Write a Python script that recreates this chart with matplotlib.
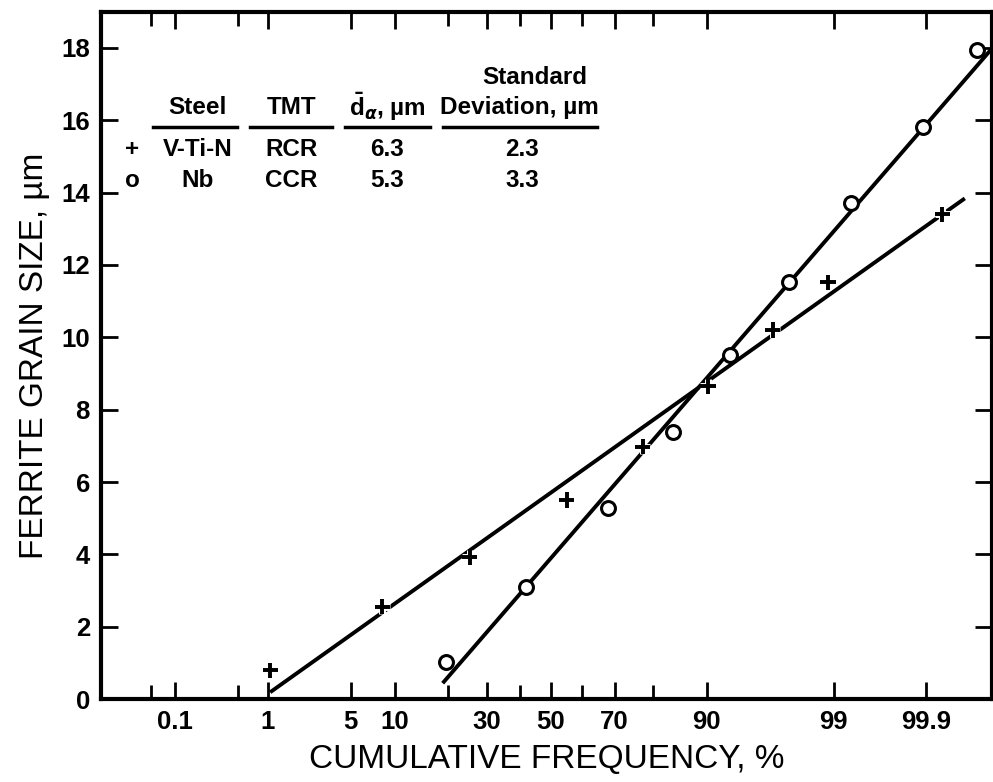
"""
Ferrite grain size distribution on a normal probability axis.
"""
from statistics import NormalDist
import numpy as np
import matplotlib
matplotlib.use("Agg")
import matplotlib.pyplot as plt
import matplotlib.patheffects as pe

plt.rcParams['font.family'] = ['Liberation Sans', 'DejaVu Sans']
plt.rcParams['mathtext.fontset'] = 'custom'
plt.rcParams['mathtext.rm'] = 'Liberation Sans:bold'
plt.rcParams['mathtext.bf'] = 'Liberation Sans:bold'
plt.rcParams['mathtext.it'] = 'DejaVu Sans:italic:bold'

# measured points (cumulative frequency %, grain size um)
vtin_pct = [1.05, 8.3, 25.2, 55.2, 77.5, 90.2, 96.6, 98.87, 99.936]
vtin_size = [0.8, 2.55, 3.92, 5.5, 6.98, 8.65, 10.2, 11.52, 13.4]
nb_pct = [19.4, 41.8, 68.0, 84.2, 92.97, 97.5, 99.32, 99.89, 99.977]
nb_size = [1.02, 3.09, 5.28, 7.38, 9.5, 11.52, 13.7, 15.8, 17.93]

# fitted lines (end points)
vtin_fit_pct = [1.05, 99.967]
vtin_fit_size = [0.19, 13.84]
nb_fit_pct = [18.7, 99.986]
nb_fit_size = [0.44, 18.0]

major_ticks = [0.1, 1, 5, 10, 30, 50, 70, 90, 99, 99.9]
major_labels = ['0.1', '1', '5', '10', '30', '50', '70', '90', '99', '99.9']
minor_ticks = [0.05, 0.5, 20, 40, 60, 80]

# table
table_cols = ['Steel', 'TMT', r'$\bar{\mathrm{d}}_{\alpha}$, µm', 'Deviation, µm']
table_rows = [['+', 'V-Ti-N', 'RCR', '6.3', '2.3'],
              ['o', 'Nb', 'CCR', '5.3', '3.3']]

nd = NormalDist()


def prob_fwd(p):
    p = np.clip(np.asarray(p, dtype=float) / 100.0, 1e-12, 1 - 1e-12)
    return np.vectorize(nd.inv_cdf, otypes=[float])(p)


def prob_inv(z):
    return np.vectorize(nd.cdf, otypes=[float])(np.asarray(z, dtype=float)) * 100.0


fig = plt.figure(figsize=(9.93, 7.82), dpi=100)
ax = fig.add_axes([0.1017, 0.106, 0.8973, 0.879])
ax.set_xscale('function', functions=(prob_fwd, prob_inv))

ax.plot(vtin_fit_pct, vtin_fit_size, color='black', lw=2.8, solid_capstyle='butt', zorder=2)
ax.plot(nb_fit_pct, nb_fit_size, color='black', lw=2.8, solid_capstyle='butt', zorder=2)

ax.plot(vtin_pct, vtin_size, linestyle='none', marker='+', ms=11, mew=2.6, color='black', zorder=3,
        path_effects=[pe.withStroke(linewidth=5, foreground='white'), pe.Normal()])
ax.plot(nb_pct, nb_size, linestyle='none', marker='o', ms=10, mew=2.2, mfc='white', mec='black', zorder=3)

ax.set_xlim(0.0108, 99.9858)
ax.set_ylim(0, 19)

ax.set_xticks(major_ticks)
ax.set_xticklabels(major_labels)
ax.set_xticks(minor_ticks, minor=True)
ax.xaxis.set_minor_formatter(plt.NullFormatter())
ax.set_yticks(np.arange(0, 19, 2))
ax.set_yticks([], minor=True)

ax.tick_params(which='both', direction='in', top=True, right=True, width=2, labelsize=18.5, pad=8)
ax.tick_params(which='major', length=12)
ax.tick_params(which='minor', length=10)
for lab in ax.get_xticklabels() + ax.get_yticklabels():
    lab.set_fontweight('bold')
for sp in ax.spines.values():
    sp.set_linewidth(3)

ax.set_xlabel('CUMULATIVE FREQUENCY, %', fontsize=24, labelpad=7)
ax.set_ylabel('FERRITE GRAIN SIZE, µm', fontsize=24, labelpad=8)

# table of the two steels
col_x = [0.108, 0.214, 0.321, 0.469]
rule_x = [(0.058, 0.153), (0.167, 0.259), (0.274, 0.369), (0.384, 0.557)]
txt = dict(transform=ax.transAxes, ha='center', va='center', fontsize=17.5, fontweight='bold')
ax.text(0.487, 0.905, 'Standard', **txt)
for x, label in zip(col_x, table_cols):
    ax.text(x, 0.861, label, **txt)
for x0, x1 in rule_x:
    ax.plot([x0, x1], [0.832, 0.832], color='black', lw=2.5, transform=ax.transAxes, clip_on=False)
row_y = [0.799, 0.755]
for y, row in zip(row_y, table_rows):
    ax.text(0.035, y, row[0], **txt)
    ax.text(col_x[0], y, row[1], **txt)
    ax.text(col_x[1], y, row[2], **txt)
    ax.text(col_x[2], y, row[3], **txt)
    ax.text(0.4725, y, row[4], **txt)

fig.savefig('out.png', dpi=100)
